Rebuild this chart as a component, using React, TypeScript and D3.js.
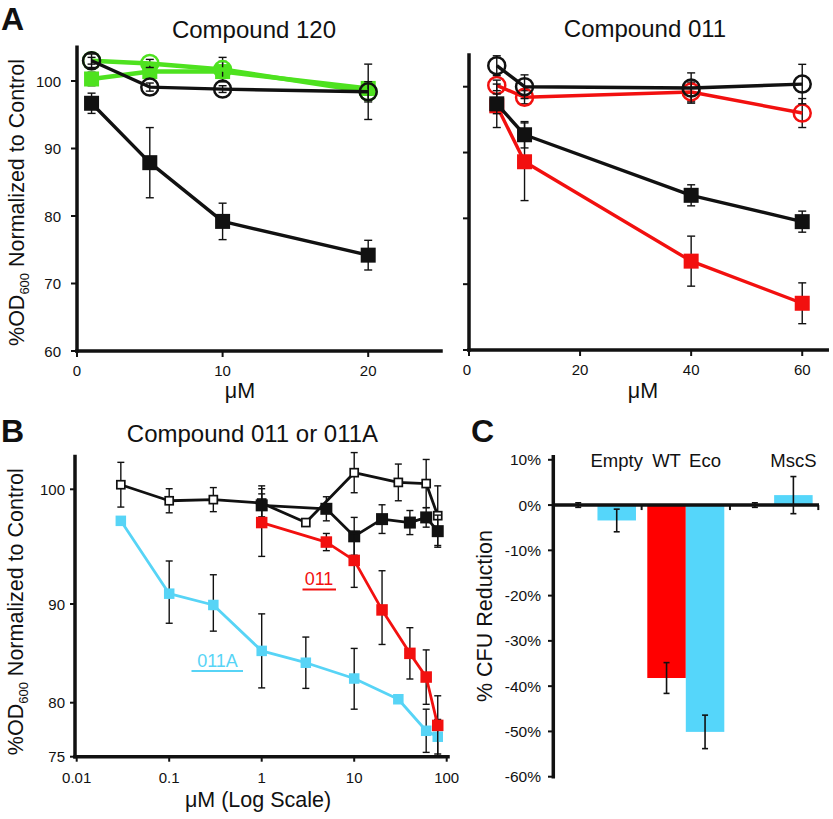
import * as d3 from "d3";

const FONT = "'Liberation Sans', Arial, Helvetica, sans-serif";
const GREEN = "#4ee21f";
const RED = "#f2100f";
const CYAN = "#57d4f6";
const INK = "#111";

// Panel A — compound 120
const dose120 = [1, 5, 10, 20];
const c120GreenSq = [100.3, 101.4, 101.4, 98.9];
const c120GreenSqErr = [1.0, 1.0, 1.5, 1.0];
const c120GreenCirc = [103.0, 102.6, 101.7, 98.4];
const c120GreenCircErr = [0.5, 0.6, 1.8, 1.5];
const c120BlackSq = [96.7, 87.9, 79.2, 74.2];
const c120BlackSqErr = [1.5, 5.2, 2.7, 2.2];
const c120BlackCirc = [103.0, 99.1, 98.8, 98.4];
const c120BlackCircErr = [1.0, 0.6, 0.5, 4.1];
const ticks120X = [0, 10, 20];

// Panel A — compound 011
const dose011 = [5, 10, 40, 60];
const c011RedCirc = [100.2, 98.4, 99.2, 96.0];
const c011RedCircErr = [0.8, 1.0, 1.5, 2.2];
const c011RedSq = [97.1, 88.6, 73.5, 67.1];
const c011RedSqErr = [3.3, 5.9, 3.8, 3.1];
const c011BlackSq = [97.4, 92.7, 83.5, 79.5];
const c011BlackSqErr = [1.5, 2.0, 1.6, 1.6];
const c011BlackCirc = [103.2, 100.0, 99.8, 100.4];
const c011BlackCircErr = [1.5, 1.8, 2.3, 3.0];
const ticks011X = [0, 20, 40, 60];
const ticksAY = [60, 70, 80, 90, 100];

// Panel B — 011 or 011A, log dose
const doseLong = [0.03, 0.1, 0.3, 1, 3, 10, 30, 60, 80];
const doseShort = [1, 5, 10, 20, 40, 60, 80];
const bOpenBlack = [100.4, 99.0, 99.1, 98.8, 97.1, 101.45, 100.6, 100.5, 97.7];
const bOpenBlackErr = [1.95, 1.05, 1.05, 1.5, 0.3, 1.75, 1.6, 2.1, 2.6];
const bFilledBlack = [98.6, 98.3, 95.9, 97.4, 97.1, 97.55, 96.35];
const bFilledBlackErr = [1.0, 1.05, 1.65, 1.25, 1.05, 0.85, 1.4];
const bRed011 = [97.1, 95.4, 93.8, 89.4, 85.0, 82.6, 77.9];
const bRed011Err = [2.95, 0.75, 2.35, 3.5, 2.6, 2.75, 2.8];
const bCyan011A = [97.25, 90.9, 89.9, 85.25, 84.05, 82.45, 80.35, 77.4, 76.85];
const bCyan011AErr = [0.3, 2.85, 2.65, 3.75, 2.6, 3.05, 0.3, 2.0, 1.6];
const ticksBX = [0.01, 0.1, 1, 10, 100];
const tickLabelsBX = ["0.01", "0.1", "1", "10", "100"];
const ticksBY = [75, 80, 90, 100];

// Panel C — CFU reduction
const cGroups = ["g1", "g2", "g3"];
const cFirst = [0, -38.2, 0];
const cFirstErr = [0.5, 3.4, 0.5];
const cFirstLabels = ["", "WT", ""];
const cSecond = [-3.4, -50.1, 2.2];
const cSecondErr = [2.5, 3.7, 4.1];
const cSecondLabels = ["Empty", "Eco", "MscS"];
const ticksCY = [10, 0, -10, -20, -30, -40, -50, -60];

type Scale = (v: number) => number;

function Series({ xs, ys, errs, x, y, color, marker, size, lw, cap }: {
  xs: number[]; ys: number[]; errs: number[]; x: Scale; y: Scale; color: string;
  marker: "square" | "circle" | "hollow"; size: number; lw: number; cap: number;
}) {
  const pts = xs.map((d, i) => [x(d), y(ys[i])] as [number, number]);
  const line = d3.line();
  return (
    <g>
      {xs.map((d, i) => {
        const px = x(d);
        const top = y(ys[i] + errs[i]);
        const bot = y(ys[i] - errs[i]);
        return (
          <g key={i} stroke={INK} strokeWidth={1.4}>
            <line x1={px} x2={px} y1={top} y2={bot} />
            <line x1={px - cap / 2} x2={px + cap / 2} y1={top} y2={top} />
            <line x1={px - cap / 2} x2={px + cap / 2} y1={bot} y2={bot} />
          </g>
        );
      })}
      <path d={line(pts) ?? ""} fill="none" stroke={color} strokeWidth={lw} strokeLinejoin="round" />
      {pts.map(([px, py], i) =>
        marker === "circle" ? (
          <circle key={i} cx={px} cy={py} r={size / 2} fill="none" stroke={color} strokeWidth={2.5} />
        ) : (
          <rect key={i} x={px - size / 2} y={py - size / 2} width={size} height={size}
            fill={marker === "hollow" ? "#fff" : color}
            stroke={marker === "hollow" ? color : "none"} strokeWidth={1.7} />
        )
      )}
    </g>
  );
}

function YLabel({ x, y, text, sub }: { x: number; y: number; text: string; sub?: boolean }) {
  return (
    <text transform={`translate(${x},${y}) rotate(-90)`} textAnchor="middle" fontSize={21.5}>
      {sub ? (
        <>
          %OD<tspan fontSize={13} dy={5}>600</tspan>
          <tspan dy={-5}>{text}</tspan>
        </>
      ) : text}
    </text>
  );
}

export default function App() {
  // A left
  const xA1 = d3.scaleLinear().domain([0, 25]).range([77, 441]);
  const yA1 = d3.scaleLinear().domain([60, 105]).range([351, 47.25]);
  // A right
  const xA2 = d3.scaleLinear().domain([0, 65]).range([469, 830]);
  const yA2 = d3.scaleLinear().domain([60, 105]).range([350, 53.8]);
  // B
  const xB = d3.scaleLog().domain([0.01, 100]).range([76.7, 446.7]);
  const yB = d3.scaleLinear().domain([75, 80, 90, 100, 102.85]).range([756.7, 702.7, 604, 489.3, 456.6]);
  // C
  const xC = d3.scaleBand().domain(cGroups).range([553.3, 818.3]);
  const xCin = d3.scaleBand().domain(["a", "b"]).range([0, xC.bandwidth()]).paddingOuter(0.147);
  const yC = d3.scaleLinear().domain([-60, 10]).range([776.7, 459.8]);

  const axisW = 3.5;
  const tickW = 2;

  return (
    <svg width={833} height={819} style={{ position: "absolute", left: 0, top: 0, background: "#fff" }}
      fontFamily={FONT} fill={INK}>
      <rect width={833} height={819} fill="#fff" />

      {/* Panel letters */}
      <text x={1} y={30} fontSize={32} fontWeight="bold">A</text>
      <text x={1} y={442} fontSize={32} fontWeight="bold">B</text>
      <text x={471} y={442} fontSize={32} fontWeight="bold">C</text>

      {/* ===== Panel A left ===== */}
      <text x={254} y={38} fontSize={24} textAnchor="middle">Compound 120</text>
      <YLabel x={24} y={202.5} text=" Normalized to Control" sub />
      <g stroke={INK}>
        <line x1={xA1(0)} x2={xA1(0)} y1={yA1(105)} y2={yA1(60)} strokeWidth={axisW} strokeLinecap="square" />
        <line x1={xA1(0)} x2={xA1(25)} y1={yA1(60)} y2={yA1(60)} strokeWidth={axisW} strokeLinecap="square" />
        {ticksAY.map((t) => (
          <line key={t} x1={xA1(0) - 6} x2={xA1(0)} y1={yA1(t)} y2={yA1(t)} strokeWidth={tickW} />
        ))}
        {ticks120X.map((t) => (
          <line key={t} x1={xA1(t)} x2={xA1(t)} y1={yA1(60)} y2={yA1(60) + 6} strokeWidth={tickW} />
        ))}
      </g>
      {ticksAY.map((t) => (
        <text key={t} x={61} y={yA1(t) + 5.5} fontSize={15} textAnchor="end">{t}</text>
      ))}
      {ticks120X.map((t) => (
        <text key={t} x={xA1(t)} y={376} fontSize={15} textAnchor="middle">{t}</text>
      ))}
      <text x={240} y={398} fontSize={21.5} textAnchor="middle">μM</text>
      <Series xs={dose120} ys={c120GreenSq} errs={c120GreenSqErr} x={xA1} y={yA1} color={GREEN} marker="square" size={15} lw={4.5} cap={8} />
      <Series xs={dose120} ys={c120GreenCirc} errs={c120GreenCircErr} x={xA1} y={yA1} color={GREEN} marker="circle" size={17} lw={4.5} cap={8} />
      <Series xs={dose120} ys={c120BlackSq} errs={c120BlackSqErr} x={xA1} y={yA1} color={INK} marker="square" size={15} lw={3.4} cap={8} />
      <Series xs={dose120} ys={c120BlackCirc} errs={c120BlackCircErr} x={xA1} y={yA1} color={INK} marker="circle" size={17} lw={3.4} cap={8} />

      {/* ===== Panel A right ===== */}
      <text x={645} y={37} fontSize={24} textAnchor="middle">Compound 011</text>
      <g stroke={INK}>
        <line x1={xA2(0)} x2={xA2(0)} y1={yA2(104.8)} y2={yA2(60)} strokeWidth={axisW} strokeLinecap="square" />
        <line x1={xA2(0)} x2={xA2(64.5)} y1={yA2(60)} y2={yA2(60)} strokeWidth={axisW} strokeLinecap="square" />
        {ticksAY.map((t) => (
          <line key={t} x1={xA2(0) - 6} x2={xA2(0)} y1={yA2(t)} y2={yA2(t)} strokeWidth={tickW} />
        ))}
        {ticks011X.map((t) => (
          <line key={t} x1={xA2(t)} x2={xA2(t)} y1={yA2(60)} y2={yA2(60) + 6} strokeWidth={tickW} />
        ))}
      </g>
      {ticks011X.map((t) => (
        <text key={t} x={xA2(t) - (t === 0 ? 2 : 0)} y={375} fontSize={15} textAnchor="middle">{t}</text>
      ))}
      <text x={643} y={398} fontSize={21.5} textAnchor="middle">μM</text>
      <Series xs={dose011} ys={c011RedCirc} errs={c011RedCircErr} x={xA2} y={yA2} color={RED} marker="circle" size={17} lw={3.4} cap={8} />
      <Series xs={dose011} ys={c011RedSq} errs={c011RedSqErr} x={xA2} y={yA2} color={RED} marker="square" size={15} lw={3.4} cap={8} />
      <Series xs={dose011} ys={c011BlackSq} errs={c011BlackSqErr} x={xA2} y={yA2} color={INK} marker="square" size={15} lw={3.4} cap={8} />
      <Series xs={dose011} ys={c011BlackCirc} errs={c011BlackCircErr} x={xA2} y={yA2} color={INK} marker="circle" size={17} lw={3.4} cap={8} />

      {/* ===== Panel B ===== */}
      <text x={252.5} y={441.5} fontSize={24} textAnchor="middle">Compound 011 or 011A</text>
      <YLabel x={23} y={611.7} text=" Normalized to Control" sub />
      <g stroke={INK}>
        <line x1={75} x2={75} y1={yB(102.85)} y2={yB(75)} strokeWidth={axisW} strokeLinecap="square" />
        <line x1={75} x2={448} y1={yB(75)} y2={yB(75)} strokeWidth={axisW} strokeLinecap="square" />
        {ticksBY.map((t) => (
          <line key={t} x1={70} x2={75} y1={yB(t)} y2={yB(t)} strokeWidth={tickW} />
        ))}
        {ticksBX.map((t) => (
          <line key={t} x1={xB(t)} x2={xB(t)} y1={yB(75)} y2={yB(75) + 5} strokeWidth={tickW} />
        ))}
      </g>
      {ticksBY.map((t) => (
        <text key={t} x={65} y={yB(t) + 5.5} fontSize={15} textAnchor="end">{t}</text>
      ))}
      {ticksBX.map((t, i) => (
        <text key={t} x={xB(t)} y={783} fontSize={15} textAnchor="middle">{tickLabelsBX[i]}</text>
      ))}
      <text x={258} y={807} fontSize={21.5} textAnchor="middle">μM (Log Scale)</text>
      <Series xs={doseLong} ys={bOpenBlack} errs={bOpenBlackErr} x={xB} y={yB} color={INK} marker="hollow" size={8} lw={2.8} cap={7} />
      <Series xs={doseShort} ys={bFilledBlack} errs={bFilledBlackErr} x={xB} y={yB} color={INK} marker="square" size={12} lw={2.8} cap={7} />
      <Series xs={doseLong} ys={bCyan011A} errs={bCyan011AErr} x={xB} y={yB} color={CYAN} marker="square" size={10.5} lw={2.8} cap={7} />
      <Series xs={doseShort} ys={bRed011} errs={bRed011Err} x={xB} y={yB} color={RED} marker="square" size={11.5} lw={2.8} cap={7} />
      <text x={319} y={585} fontSize={18} textAnchor="middle" fill={RED}>011</text>
      <line x1={302.5} x2={336} y1={589.5} y2={589.5} stroke={RED} strokeWidth={1.8} />
      <text x={217.5} y={667} fontSize={18} textAnchor="middle" fill={CYAN}>011A</text>
      <line x1={191.5} x2={243} y1={671} y2={671} stroke={CYAN} strokeWidth={1.8} />

      {/* ===== Panel C ===== */}
      <YLabel x={491.5} y={616} text="% CFU Reduction" />
      {cGroups.map((g, i) => {
        const x0 = xC(g) ?? 0;
        const bars = [
          { k: "a", v: cFirst[i], e: cFirstErr[i], lab: cFirstLabels[i], c: i === 1 ? "#ff0000" : INK },
          { k: "b", v: cSecond[i], e: cSecondErr[i], lab: cSecondLabels[i], c: "#55d6fa" },
        ];
        return (
          <g key={g}>
            {bars.map((b) => {
              const bx = x0 + (xCin(b.k) ?? 0);
              const w = xCin.bandwidth();
              const cx = bx + w / 2;
              const y0 = yC(0);
              const yv = yC(b.v);
              const top = yC(b.v + b.e);
              const bot = yC(b.v - b.e);
              return (
                <g key={b.k}>
                  <rect x={bx} y={Math.min(y0, yv)} width={w} height={Math.abs(yv - y0)} fill={b.c} />
                  <g stroke={INK} strokeWidth={1.6}>
                    <line x1={cx} x2={cx} y1={top} y2={bot} />
                    <line x1={cx - 3} x2={cx + 3} y1={top} y2={top} />
                    <line x1={cx - 3} x2={cx + 3} y1={bot} y2={bot} />
                  </g>
                  {b.lab && (
                    <text x={cx} y={467} fontSize={18.5} textAnchor="middle">{b.lab}</text>
                  )}
                </g>
              );
            })}
          </g>
        );
      })}
      <g stroke={INK}>
        <line x1={553.3} x2={553.3} y1={456.7} y2={yC(-60)} strokeWidth={axisW} strokeLinecap="square" />
        <line x1={553.3} x2={819} y1={yC(0)} y2={yC(0)} strokeWidth={axisW} />
        {ticksCY.map((t) => (
          <line key={t} x1={548} x2={553.3} y1={yC(t)} y2={yC(t)} strokeWidth={tickW} />
        ))}
        {cGroups.map((g) => {
          const xe = (xC(g) ?? 0) + xC.bandwidth();
          return <line key={g} x1={xe} x2={xe} y1={yC(0)} y2={yC(0) + 5} strokeWidth={tickW} />;
        })}
      </g>
      {ticksCY.map((t) => (
        <text key={t} x={541} y={yC(t) + 5.5} fontSize={15.5} textAnchor="end">{`${t}%`}</text>
      ))}
    </svg>
  );
}
